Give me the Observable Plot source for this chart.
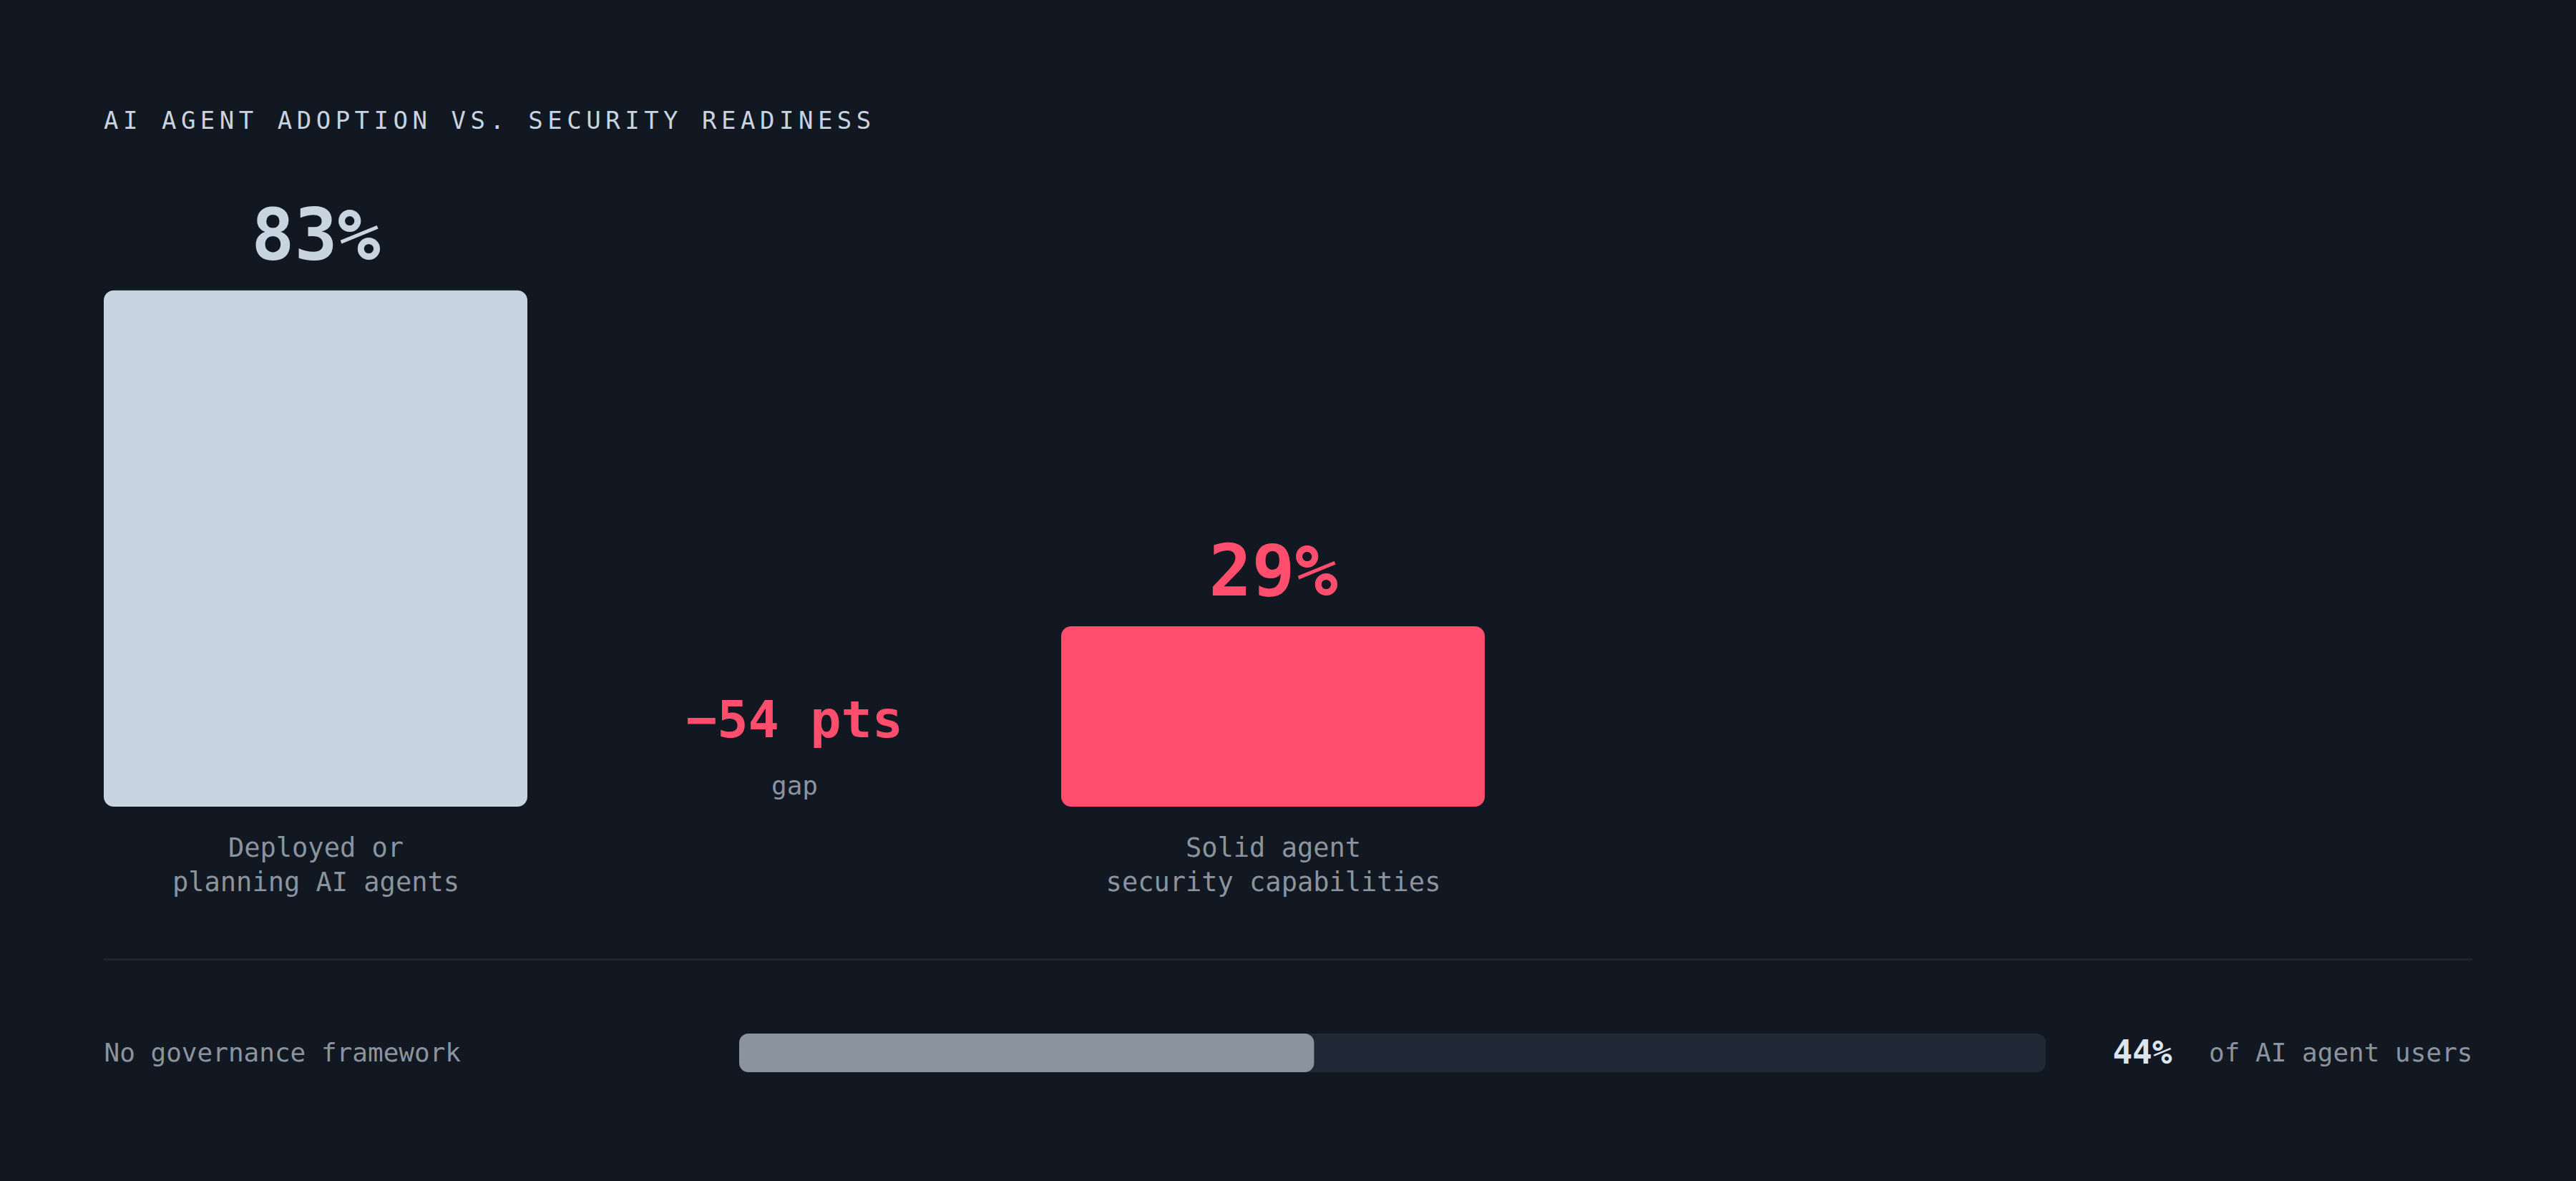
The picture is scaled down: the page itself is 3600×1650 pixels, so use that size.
<!DOCTYPE html>
<html>
<head>
<meta charset="utf-8">
<script src="https://cdn.jsdelivr.net/npm/d3@7"></script>
<script src="https://cdn.jsdelivr.net/npm/@observablehq/plot@0.6"></script>
<style>
  html, body { margin: 0; padding: 0; background: #111821; }
  #wrap { position: relative; width: 3600px; height: 1650px; background: #111821; overflow: hidden; font-family: "DejaVu Sans Mono", monospace; }
  #title { position: absolute; left: 145px; top: 151px; font-size: 34px; line-height: 1; letter-spacing: 6.5px; color: #c8d3df; white-space: nowrap; }
  #divider { position: absolute; left: 145px; top: 1339px; width: 3310px; height: 3px; background: #1d2530; }
  #topchart { position: absolute; left: 0; top: 0; }
  #bottomchart { position: absolute; left: 0; top: 1380px; }
</style>
</head>
<body>
<div id="wrap">
  <div id="title">AI AGENT ADOPTION VS. SECURITY READINESS</div>
  <div id="topchart"></div>
  <div id="divider"></div>
  <div id="bottomchart"></div>
</div>
<script>
// ---- data ----
const categories = ["adopt", "gap", "secure"];
const barKeys = ["adopt", "secure"];
const barValues = [83, 29];
const barLabels = ["Deployed or\nplanning AI agents", "Solid agent\nsecurity capabilities"];
const barColors = ["#c8d4e0", "#ff4d6d"];
const gapWord = "gap";
const governanceLabel = "No governance framework";
const governanceValue = 44;
const governanceSuffix = "of AI agent users";

const bars = barKeys.map((k, i) => ({cat: k, value: barValues[i], label: barLabels[i], color: barColors[i], pct: barValues[i] + "%"}));
const gapValue = barValues[1] - barValues[0];
const gapRows = [{cat: "gap", text: "\u2212" + Math.abs(gapValue) + " pts", sub: gapWord}];

const fontStack = "DejaVu Sans Mono, monospace";

const topPlot = Plot.plot({
  width: 3600,
  height: 1300,
  margin: 0,
  style: {background: "transparent", fontFamily: fontStack},
  x: {type: "band", domain: categories, range: [145, 2076], paddingInner: 0.115, paddingOuter: 0, axis: null},
  y: {domain: [0, 100], range: [1127, 258], axis: null},
  marks: [
    Plot.barY(bars, {x: "cat", y: "value", fill: "color", rx: 14}),
    Plot.text(bars, {x: "cat", y: "value", text: "pct", fill: "color", fontSize: 100, fontWeight: 700, lineAnchor: "bottom", dy: -43, textAnchor: "middle"}),
    Plot.text(bars, {x: "cat", y: () => 0, text: "label", fill: "#8b949e", fontSize: 37, lineHeight: 1.3, lineAnchor: "top", dy: 35, textAnchor: "middle"}),
    Plot.text(gapRows, {x: "cat", y: () => 0, text: "text", fill: "#ff4d6d", fontSize: 72, fontWeight: 700, lineAnchor: "bottom", dy: -98, textAnchor: "middle"}),
    Plot.text(gapRows, {x: "cat", y: () => 0, text: "sub", fill: "#8b949e", fontSize: 36, lineAnchor: "bottom", dy: -18, textAnchor: "middle"})
  ]
});
document.getElementById("topchart").appendChild(topPlot);

const gov = [{label: governanceLabel, value: governanceValue, total: 100, pct: governanceValue + "%", suffix: governanceSuffix}];
const bottomPlot = Plot.plot({
  width: 3600,
  height: 180,
  marginLeft: 145,
  marginRight: 145,
  marginTop: 64,
  marginBottom: 62,
  style: {background: "transparent", fontFamily: fontStack},
  x: {domain: [0, 100], range: [1033, 2859], axis: null},
  marks: [
    Plot.barX(gov, {x1: () => 0, x2: "total", fill: "#1f2935", rx: 13}),
    Plot.barX(gov, {x1: () => 0, x2: "value", fill: "#8a949e", rx: 13}),
    Plot.text(gov, {text: "label", frameAnchor: "left", textAnchor: "start", fill: "#8b949e", fontSize: 36}),
    Plot.text(gov, {text: "suffix", frameAnchor: "right", textAnchor: "end", fill: "#8b949e", fontSize: 36}),
    Plot.text(gov, {text: "pct", frameAnchor: "right", textAnchor: "end", dx: -420, fill: "#dce4ec", fontSize: 46, fontWeight: 700})
  ]
});
document.getElementById("bottomchart").appendChild(bottomPlot);
</script>
</body>
</html>
